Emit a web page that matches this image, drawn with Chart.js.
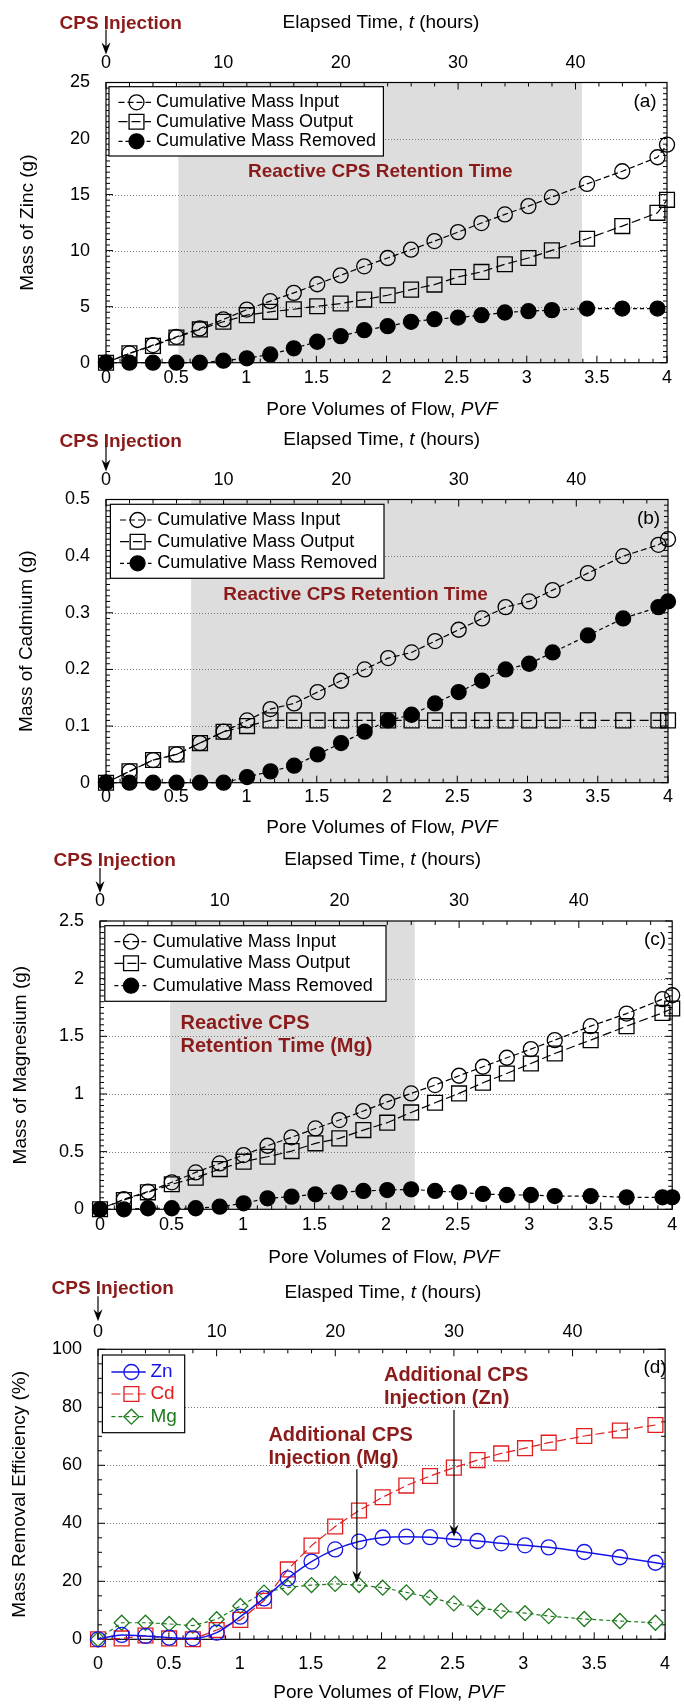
<!DOCTYPE html>
<html>
<head>
<meta charset="utf-8">
<script src="https://cdn.jsdelivr.net/npm/chart.js@4.4.0/dist/chart.umd.min.js"></script>
<style>
  body { margin: 0; background: #fff; }
  #page { position: relative; width: 684px; height: 1705px; overflow: hidden; background: #fff; }
  #page canvas { position: absolute; left: 0; }
</style>
</head>
<body>
<div id="page">
  <canvas id="cA" width="684" height="425" style="top:0px"></canvas>
  <canvas id="cB" width="684" height="425" style="top:415px"></canvas>
  <canvas id="cC" width="684" height="430" style="top:835px"></canvas>
  <canvas id="cD" width="684" height="445" style="top:1260px"></canvas>
</div>
<script>
// ── Data ──
// sampling: every 2 h up to 38 h, then 41, 44, 47 h and the end of the run
const PVF = [0, 0.167, 0.335, 0.502, 0.669, 0.837, 1.004, 1.171, 1.339, 1.506, 1.673, 1.841,
             2.008, 2.175, 2.342, 2.510, 2.677, 2.844, 3.012, 3.179, 3.430, 3.681, 3.932, 4.0];
const HOURS_AT_4PVF = 47.8;

const PVF_TICKS  = [0, 0.5, 1, 1.5, 2, 2.5, 3, 3.5, 4];
const HOUR_TICKS = [0, 10, 20, 30, 40];
const ZN_TICKS   = [0, 5, 10, 15, 20, 25];
const CD_TICKS   = [0, 0.1, 0.2, 0.3, 0.4, 0.5];
const MG_TICKS   = [0, 0.5, 1, 1.5, 2, 2.5];
const EFF_TICKS  = [0, 20, 40, 60, 80, 100];

// (a) zinc, g
const ZN_INPUT   = [0, 0.83, 1.57, 2.31, 3.05, 3.86, 4.74, 5.49, 6.23, 7.0, 7.8, 8.6,
                    9.34, 10.08, 10.85, 11.65, 12.46, 13.23, 13.97, 14.77, 15.95, 17.08, 18.33, 19.45];
const ZN_OUTPUT  = [0, 0.83, 1.5, 2.25, 2.97, 3.65, 4.24, 4.54, 4.77, 5.04, 5.28, 5.63,
                    6.02, 6.52, 6.97, 7.65, 8.1, 8.78, 9.34, 10.02, 11.06, 12.19, 13.37, 14.53];
const ZN_REMOVED = [0, 0, 0, 0, 0, 0.18, 0.39, 0.74, 1.28, 1.87, 2.37, 2.9,
                    3.26, 3.65, 3.88, 4.03, 4.24, 4.48, 4.6, 4.69, 4.83, 4.83, 4.83, null];

// (b) cadmium, g
const CD_INPUT   = [0, 0.02, 0.04, 0.05, 0.07, 0.09, 0.11, 0.13, 0.14, 0.16, 0.18, 0.20,
                    0.22, 0.23, 0.25, 0.27, 0.29, 0.31, 0.32, 0.34, 0.37, 0.40, 0.42, 0.43];
const CD_OUTPUT  = [0, 0.02, 0.04, 0.05, 0.07, 0.09, 0.10, 0.11, 0.11, 0.11, 0.11, 0.11,
                    0.11, 0.11, 0.11, 0.11, 0.11, 0.11, 0.11, 0.11, 0.11, 0.11, 0.11, 0.11];
const CD_REMOVED = [0, 0, 0, 0, 0, 0, 0.01, 0.02, 0.03, 0.05, 0.07, 0.09,
                    0.11, 0.12, 0.14, 0.16, 0.18, 0.20, 0.21, 0.23, 0.26, 0.29, 0.31, 0.32];

// (c) magnesium, g
const MG_INPUT   = [0, 0.087, 0.153, 0.234, 0.32, 0.398, 0.47, 0.551, 0.624, 0.701, 0.774, 0.852,
                    0.932, 1.005, 1.077, 1.158, 1.236, 1.314, 1.389, 1.467, 1.588, 1.697, 1.822, 1.856];
const MG_OUTPUT  = [0, 0.081, 0.147, 0.217, 0.274, 0.349, 0.413, 0.456, 0.505, 0.572, 0.615, 0.687,
                    0.751, 0.84, 0.924, 1.005, 1.097, 1.178, 1.264, 1.351, 1.467, 1.588, 1.703, 1.741];
const MG_REMOVED = [0, 0, 0.009, 0.009, 0.009, 0.023, 0.052, 0.095, 0.11, 0.13, 0.147, 0.159,
                    0.167, 0.173, 0.159, 0.147, 0.133, 0.124, 0.124, 0.115, 0.115, 0.104, 0.104, 0.104];

// (d) removal efficiency, %
const ZN_EFF = [0, 1.5, 1.15, 0.57, 0.34, 2.3, 7.8, 14.1, 21.0, 26.8, 31.0, 33.7,
                35.1, 35.4, 35.2, 34.5, 33.9, 33.1, 32.4, 31.7, 30.1, 28.3, 26.4, 25.9];
const CD_EFF = [0, 0.3, 1.3, 0.3, 0, 3.2, 6.7, 13.3, 24.1, 32.3, 38.9, 44.4,
                49.0, 53.0, 56.3, 59.2, 61.8, 64.1, 65.9, 67.8, 70.1, 72.0, 73.9, null];
const MG_EFF = [0, 5.7, 5.7, 5.3, 4.7, 6.9, 11.5, 16.1, 17.9, 18.7, 19.1, 18.7,
                17.8, 16.2, 14.4, 12.4, 10.9, 9.8, 9.0, 8.0, 7.0, 6.3, 5.7, null];

// reactive CPS retention windows, PVF
const ZN_SHADE = [0.516, 3.393];
const CD_SHADE = [0.606, 4.0];
const MG_SHADE = [0.49, 2.2];

// ── Styling ──
const FONT = '"Liberation Sans", Arial, Helvetica, sans-serif';
const DARK_RED = '#8b1a1a';
const SHADE = '#dcdddc';
const BLUE = '#1414e6', RED = '#e01e1e', GREEN = '#1e7a1e';

const S_INPUT   = { pointStyle: 'circle', radius: 7.5,  filled: false, dash: [6, 3], color: '#000', width: 1.2 };
const S_OUTPUT  = { pointStyle: 'rect',   radius: 10.5, filled: false, dash: [9, 4], color: '#000', width: 1.2 };
const S_REMOVED = { pointStyle: 'circle', radius: 7.5,  filled: true,  dash: [4, 3], color: '#000', width: 1.2 };

function font(size, bold, italic) {
  return (italic ? 'italic ' : '') + (bold ? 'bold ' : '') + size + 'px ' + FONT;
}
function fmt(v) { return String(Math.round(v * 1000) / 1000); }

const massLegend = (a, b, c) => [a, b, c];

const PANELS = [
  {
    id: 'cA', H: 425, L: 106, R: 667, T: 82.5, B: 362.7,
    yMax: 25, yTicks: ZN_TICKS, yMajor: 5, yMinor: 0.5, shade: ZN_SHADE,
    xPad: 4.5, x2Pad: 8.7, yTitle: 'Mass of Zinc (g)', yTitleX: 28,
    cpsY: 24, topTitleY: 23, topTitleX: 381, topWord: 'Elapsed', xTitleY: 410, xTitleX: 382,
    tag: '(a)', tagX: 645, tagY: 101.7,
    legend: { box: [3, 4.2, 277.4, 73.5], rows: [19.8, 39.2, 58.8], x0: 12.5, x1: 45, xm: 30.5, xt: 50, size: 18 },
    series: [
      { label: 'Cumulative Mass Input', values: ZN_INPUT, s: S_INPUT },
      { label: 'Cumulative Mass Output', values: ZN_OUTPUT, s: S_OUTPUT },
      { label: 'Cumulative Mass Removed', values: ZN_REMOVED, s: S_REMOVED }
    ],
    notes: [{ lines: ['Reactive CPS Retention Time'], x: 1.956, y: [17.04], align: 'center', size: 19 }]
  },
  {
    id: 'cB', H: 425, L: 106, R: 668, T: 84.5, B: 367.7,
    yMax: 0.5, yTicks: CD_TICKS, yMajor: 0.1, yMinor: 0.01, shade: CD_SHADE,
    xPad: 3.2, x2Pad: 8.2, yTitle: 'Mass of Cadmium (g)', yTitleX: 27,
    cpsY: 26.7, topTitleY: 25, topTitleX: 381.7, topWord: 'Elapsed', xTitleY: 413, xTitleX: 382,
    tag: '(b)', tagX: 648.5, tagY: 103.3,
    legend: { box: [4.4, 4.8, 278, 78.8], rows: [20.5, 42.2, 63.8], x0: 14, x1: 45.5, xm: 31.6, xt: 51.2, size: 18 },
    series: [
      { label: 'Cumulative Mass Input', values: CD_INPUT, s: S_INPUT },
      { label: 'Cumulative Mass Output', values: CD_OUTPUT, s: S_OUTPUT },
      { label: 'Cumulative Mass Removed', values: CD_REMOVED, s: S_REMOVED }
    ],
    notes: [{ lines: ['Reactive CPS Retention Time'], x: 1.776, y: [0.3316], align: 'center', size: 19 }]
  },
  {
    id: 'cC', H: 430, L: 100, R: 677, T: 86, B: 374.3,
    yMax: 2.5, yTicks: MG_TICKS, yMajor: 0.5, yMinor: 0.05, shade: MG_SHADE,
    xPad: 5.2, x2Pad: 9.2, yTitle: 'Mass of Magnesium (g)', yTitleX: 21,
    cpsY: 25.7, topTitleY: 25, topTitleX: 382.7, topWord: 'Elapsed', xTitleY: 423, xTitleX: 384,
    tag: '(c)', tagX: 655, tagY: 105,
    legend: { box: [4.8, 4.7, 286, 80.3], rows: [20.7, 42.3, 64.7], x0: 14.4, x1: 46.3, xm: 31, xt: 52.8, size: 18 },
    series: [
      { label: 'Cumulative Mass Input', values: MG_INPUT, s: S_INPUT },
      { label: 'Cumulative Mass Output', values: MG_OUTPUT, s: S_OUTPUT },
      { label: 'Cumulative Mass Removed', values: MG_REMOVED, s: S_REMOVED }
    ],
    notes: [{ lines: ['Reactive CPS', 'Retention Time (Mg)'], x: 0.563, y: [1.612, 1.409], align: 'left', size: 20 }]
  },
  {
    id: 'cD', H: 445, L: 98, R: 677.3, T: 89.3, B: 379.3,
    yMax: 100, yTicks: EFF_TICKS, yMajor: 20, yMinor: 5, shade: null,
    xPad: 13.9, x2Pad: 6.7, yTitle: 'Mass Removal Efficiency (%)', yTitleX: 19.7,
    cpsY: 29, topTitleY: 32.7, topTitleX: 383, topWord: 'Elasped', xTitleY: 433, xTitleX: 389,
    tag: '(d)', tagX: 655, tagY: 108,
    legend: { box: [4.4, 5.7, 86.7, 83.4], rows: [22.7, 44.7, 67.4], x0: 13.4, x1: 47.7, xm: 33.4, xt: 52.4, size: 19, colored: true },
    series: [
      { label: 'Zn', values: ZN_EFF, s: { pointStyle: 'circle', radius: 7.5, filled: false, dash: [], color: BLUE, width: 1.5, smooth: true, lastHidden: true } },
      { label: 'Cd', values: CD_EFF, s: { pointStyle: 'rect', radius: 10.5, filled: false, dash: [9, 4], color: RED, width: 1.2 } },
      { label: 'Mg', values: MG_EFF, s: { pointStyle: 'rectRot', radius: 7.5, filled: false, dash: [4, 3], color: GREEN, width: 1.2 } }
    ],
    notes: [
      { lines: ['Additional CPS', 'Injection (Zn)'], x: 2.017, y: [91.1, 83.1], align: 'left', size: 20, arrow: { x: 2.511, y0: 79.1, y1: 35.4 } },
      { lines: ['Additional CPS', 'Injection (Mg)'], x: 1.202, y: [70.4, 62.2], align: 'left', size: 20, arrow: { x: 1.826, y0: 58.6, y1: 19.5 } }
    ]
  }
];

// ── Drawing helpers ──
function richText(ctx, parts, x, y, size, align, color) {
  ctx.fillStyle = color;
  ctx.textBaseline = 'middle';
  ctx.textAlign = 'left';
  let w = 0;
  parts.forEach(([t, it]) => { ctx.font = font(size, false, it); w += ctx.measureText(t).width; });
  let cx = align === 'center' ? x - w / 2 : x;
  parts.forEach(([t, it]) => {
    ctx.font = font(size, false, it);
    ctx.fillText(t, cx, y);
    cx += ctx.measureText(t).width;
  });
}

function arrowDown(ctx, x, y0, y1) {
  ctx.save();
  ctx.strokeStyle = '#000';
  ctx.fillStyle = '#000';
  ctx.lineWidth = 1.2;
  ctx.setLineDash([]);
  ctx.beginPath();
  ctx.moveTo(x, y0);
  ctx.lineTo(x, y1 - 6);
  ctx.stroke();
  ctx.beginPath();
  ctx.moveTo(x, y1);
  ctx.lineTo(x - 4.5, y1 - 12);
  ctx.lineTo(x, y1 - 8);
  ctx.lineTo(x + 4.5, y1 - 12);
  ctx.closePath();
  ctx.fill();
  ctx.restore();
}

function marker(ctx, s, x, y) {
  ctx.save();
  ctx.setLineDash([]);
  ctx.lineWidth = 1.3;
  ctx.strokeStyle = s.color;
  ctx.fillStyle = s.filled ? s.color : 'rgba(0,0,0,0)';
  Chart.helpers.drawPoint(ctx, { pointStyle: s.pointStyle, radius: s.radius, borderWidth: 1.3, rotation: 0 }, x, y);
  ctx.restore();
}

function isMajor(v, step) {
  const q = v / step;
  return Math.abs(q - Math.round(q)) < 1e-6;
}

function drawBackground(chart, p) {
  const { ctx, chartArea: a, scales } = chart;
  ctx.save();
  // retention-time shading
  if (p.shade) {
    const x0 = scales.x.getPixelForValue(p.shade[0]);
    const x1 = scales.x.getPixelForValue(p.shade[1]);
    ctx.fillStyle = SHADE;
    ctx.fillRect(x0, a.top, x1 - x0, a.bottom - a.top);
  }
  // dotted horizontal grid
  ctx.strokeStyle = '#7a7a7a';
  ctx.lineWidth = 1;
  ctx.setLineDash([1, 2]);
  p.yTicks.forEach(v => {
    if (v <= 0 || v >= p.yMax) return;
    const py = Math.round(scales.y.getPixelForValue(v)) + 0.5;
    ctx.beginPath();
    ctx.moveTo(a.left, py);
    ctx.lineTo(a.right, py);
    ctx.stroke();
  });
  ctx.setLineDash([]);
  // frame
  ctx.strokeStyle = '#000';
  ctx.lineWidth = 1.2;
  ctx.strokeRect(a.left, a.top, a.right - a.left, a.bottom - a.top);
  // inward tick marks, all four sides
  ctx.lineWidth = 1;
  ctx.beginPath();
  const ny = Math.round(p.yMax / p.yMinor);
  for (let i = 0; i <= ny; i++) {
    const v = i * p.yMinor;
    const len = isMajor(v, p.yMajor) ? 7 : 4;
    const py = scales.y.getPixelForValue(v);
    ctx.moveTo(a.left, py); ctx.lineTo(a.left + len, py);
    ctx.moveTo(a.right, py); ctx.lineTo(a.right - len, py);
  }
  for (let i = 0; i <= 40; i++) {
    const v = i * 0.1;
    const len = isMajor(v, 0.5) ? 7 : 4;
    const px = scales.x.getPixelForValue(v);
    ctx.moveTo(px, a.bottom); ctx.lineTo(px, a.bottom - len);
  }
  for (let h = 0; h <= HOURS_AT_4PVF; h += 2) {
    const len = isMajor(h, 10) ? 7 : 4;
    const px = scales.x2.getPixelForValue(h);
    ctx.moveTo(px, a.top); ctx.lineTo(px, a.top + len);
  }
  ctx.stroke();
  ctx.restore();
}

function drawOverlay(chart, p) {
  const { ctx, chartArea: a, scales } = chart;
  ctx.save();
  // annotations
  p.notes.forEach(n => {
    ctx.font = font(n.size, true, false);
    ctx.fillStyle = DARK_RED;
    ctx.textAlign = n.align;
    ctx.textBaseline = 'middle';
    const px = scales.x.getPixelForValue(n.x);
    n.lines.forEach((t, i) => ctx.fillText(t, px, scales.y.getPixelForValue(n.y[i])));
    if (n.arrow) {
      arrowDown(ctx, scales.x.getPixelForValue(n.arrow.x),
        scales.y.getPixelForValue(n.arrow.y0), scales.y.getPixelForValue(n.arrow.y1));
    }
  });
  // legend box
  const lg = p.legend;
  const bx0 = a.left + lg.box[0], by0 = a.top + lg.box[1];
  const bx1 = a.left + lg.box[2], by1 = a.top + lg.box[3];
  ctx.fillStyle = '#fff';
  ctx.fillRect(bx0, by0, bx1 - bx0, by1 - by0);
  ctx.strokeStyle = '#000';
  ctx.lineWidth = 1.2;
  ctx.strokeRect(bx0, by0, bx1 - bx0, by1 - by0);
  p.series.forEach((sr, i) => {
    const y = a.top + lg.rows[i];
    ctx.strokeStyle = sr.s.color;
    ctx.lineWidth = sr.s.width;
    ctx.setLineDash(sr.s.dash);
    ctx.beginPath();
    ctx.moveTo(a.left + lg.x0, y);
    ctx.lineTo(a.left + lg.x1, y);
    ctx.stroke();
    ctx.setLineDash([]);
    marker(ctx, sr.s, a.left + lg.xm, y);
    ctx.font = font(lg.size, false, false);
    ctx.fillStyle = lg.colored ? sr.s.color : '#000';
    ctx.textAlign = 'left';
    ctx.textBaseline = 'middle';
    ctx.fillText(sr.label, a.left + lg.xt, y);
  });
  // panel tag
  ctx.font = font(19, false, false);
  ctx.fillStyle = '#000';
  ctx.textAlign = 'center';
  ctx.fillText(p.tag, p.tagX, p.tagY);
  // axis titles
  richText(ctx, [[p.topWord + ' Time, ', false], ['t', true], [' (hours)', false]], p.topTitleX, p.topTitleY, 19, 'center', '#000');
  richText(ctx, [['Pore Volumes of Flow, ', false], ['PVF', true]], p.xTitleX, p.xTitleY, 19, 'center', '#000');
  ctx.save();
  ctx.translate(p.yTitleX, (a.top + a.bottom) / 2);
  ctx.rotate(-Math.PI / 2);
  ctx.font = font(19, false, false);
  ctx.textAlign = 'center';
  ctx.textBaseline = 'middle';
  ctx.fillStyle = '#000';
  ctx.fillText(p.yTitle, 0, 0);
  ctx.restore();
  // CPS injection marker
  ctx.font = font(19, true, false);
  ctx.fillStyle = DARK_RED;
  ctx.textAlign = 'left';
  ctx.textBaseline = 'middle';
  ctx.fillText('CPS Injection', a.left - 46.5, p.cpsY);
  arrowDown(ctx, a.left, a.top - 53, a.top - 28);
  ctx.restore();
}

function buildChart(p) {
  const tickFont = { family: FONT, size: 18 };
  const datasets = p.series.map(sr => {
    const pts = [];
    sr.values.forEach((v, i) => { if (v !== null) pts.push({ x: PVF[i], y: v }); });
    const radii = pts.map((pt, i) => (sr.s.lastHidden && i === pts.length - 1) ? 0 : sr.s.radius);
    return {
      label: sr.label,
      data: pts,
      borderColor: sr.s.color,
      borderWidth: sr.s.width,
      borderDash: sr.s.dash,
      pointStyle: sr.s.pointStyle,
      pointRadius: radii,
      pointBorderWidth: 1.3,
      pointBorderColor: sr.s.color,
      pointBackgroundColor: sr.s.filled ? sr.s.color : 'rgba(0,0,0,0)',
      fill: false,
      cubicInterpolationMode: sr.s.smooth ? 'monotone' : 'default',
      tension: 0,
      clip: false
    };
  });

  return new Chart(document.getElementById(p.id), {
    type: 'line',
    data: { datasets },
    options: {
      responsive: false,
      animation: false,
      devicePixelRatio: 1,
      layout: { padding: { left: 0, top: 0, right: 684 - p.R, bottom: 0 } },
      plugins: { legend: { display: false }, tooltip: { enabled: false } },
      scales: {
        x: {
          type: 'linear', position: 'bottom', min: 0, max: 4,
          grid: { display: false, drawTicks: false }, border: { display: false },
          ticks: { font: tickFont, color: '#000', padding: p.xPad, autoSkip: false, maxRotation: 0, callback: fmt },
          afterBuildTicks: s => { s.ticks = PVF_TICKS.map(v => ({ value: v })); },
          afterFit: s => { s.height = p.H - p.B; }
        },
        x2: {
          type: 'linear', position: 'top', min: 0, max: HOURS_AT_4PVF,
          grid: { display: false, drawTicks: false }, border: { display: false },
          ticks: { font: tickFont, color: '#000', padding: p.x2Pad, autoSkip: false, maxRotation: 0, callback: fmt },
          afterBuildTicks: s => { s.ticks = HOUR_TICKS.map(v => ({ value: v })); },
          afterFit: s => { s.height = p.T; }
        },
        y: {
          type: 'linear', position: 'left', min: 0, max: p.yMax,
          grid: { display: false, drawTicks: false }, border: { display: false },
          ticks: { font: tickFont, color: '#000', padding: 16, autoSkip: false, callback: fmt },
          afterBuildTicks: s => { s.ticks = p.yTicks.map(v => ({ value: v })); },
          afterFit: s => { s.width = p.L; }
        }
      }
    },
    plugins: [{
      id: 'panel_' + p.id,
      beforeDatasetsDraw(chart) { drawBackground(chart, p); },
      afterDatasetsDraw(chart) { drawOverlay(chart, p); }
    }]
  });
}

PANELS.forEach(buildChart);
</script>
</body>
</html>
